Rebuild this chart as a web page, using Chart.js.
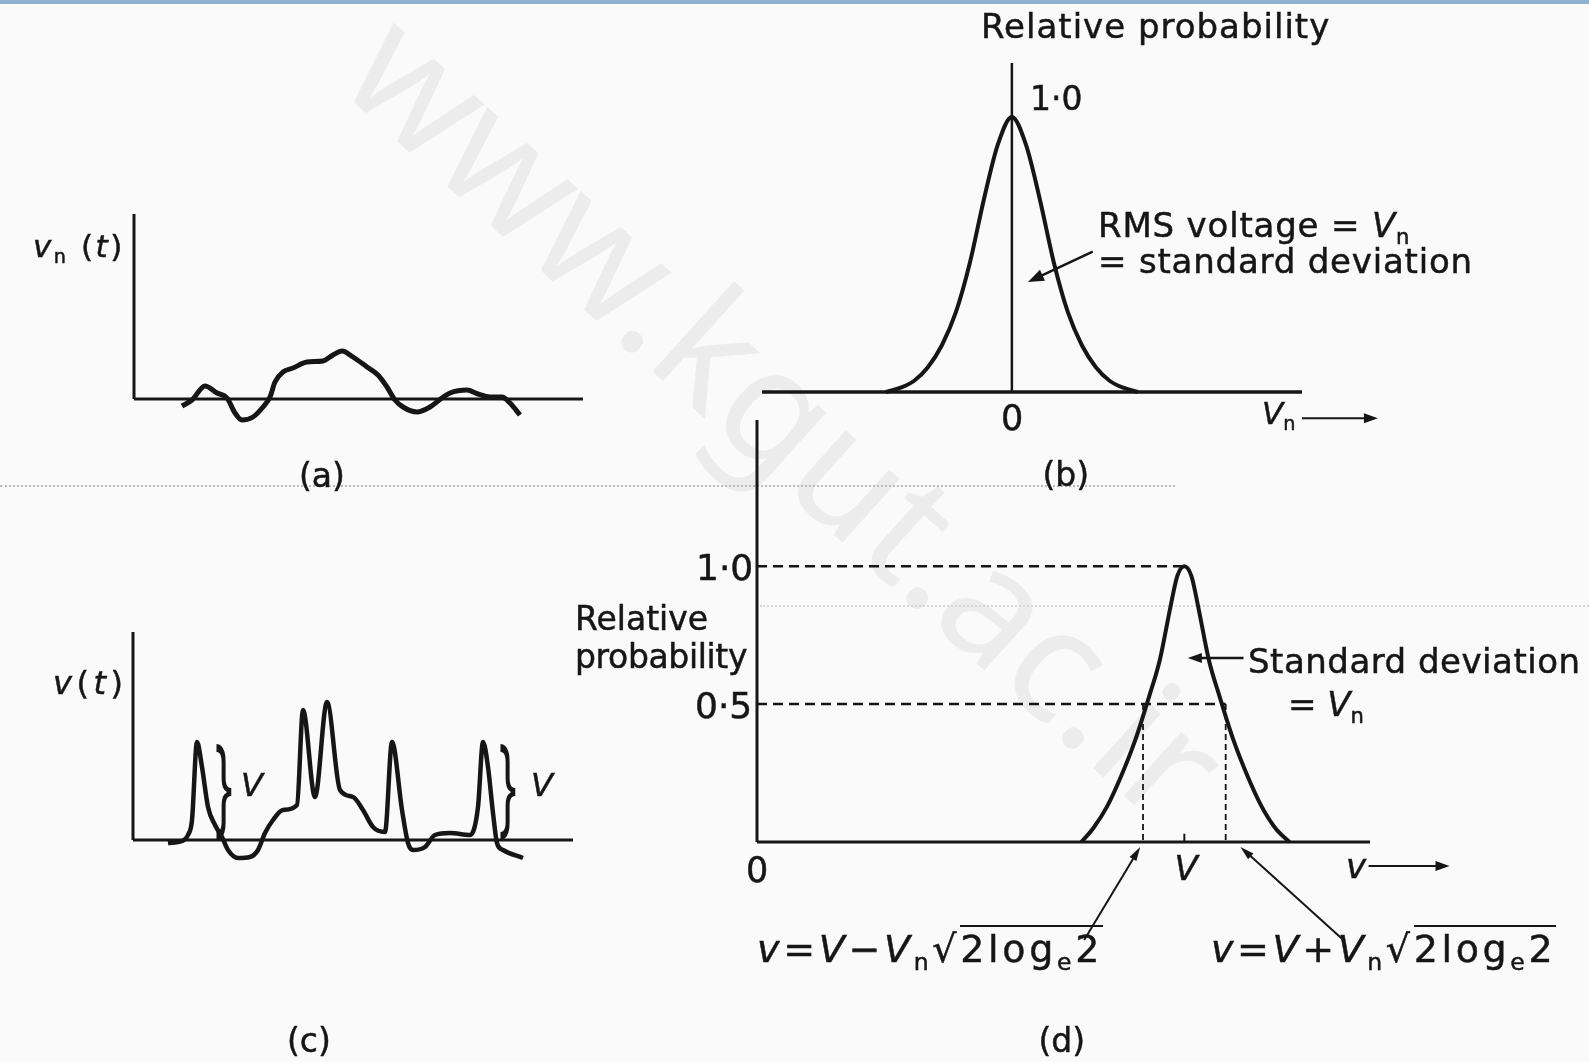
<!DOCTYPE html>
<html>
<head>
<meta charset="utf-8">
<script src="https://cdn.jsdelivr.net/npm/chart.js@4.4.1/dist/chart.umd.min.js"></script>
<style>
html, body { margin: 0; padding: 0; }
body {
    width: 1589px; height: 1062px; position: relative; overflow: hidden;
    background: #fafafa; font-family: "DejaVu Sans", sans-serif; color: #161616;
}
#topbar { position: absolute; left: 0; top: 0; width: 1589px; height: 4px; background: #8fb1d0; }
canvas { position: absolute; left: 0; top: 0; }
.t { position: absolute; white-space: nowrap; line-height: 1; -webkit-text-stroke: 0.5px #161616; }
.mk { display: inline-block; width: 0; height: 0; }
.sub { font-size: 0.62em; position: relative; top: 0.32em; font-style: normal; }
.ov { border-top: 2px solid #161616; }
.br { font-family: "Noto Sans", sans-serif; transform: scaleX(0.42); transform-origin: 0 0; -webkit-text-stroke: 0; }
.wm {
    position: absolute; left: 430px; top: -20px; font-size: 160px; color: #ececec;
    font-family: "Noto Sans", sans-serif;
    transform: rotate(42deg); transform-origin: 0 0; white-space: nowrap; line-height: 1;
}
.scan { position: absolute; height: 0; border-top: 2px dotted #b9b9b9; }
</style>
</head>
<body>
<div id="topbar"></div>
<div class="wm">www.kgut.ac.ir</div>
<div class="scan" style="left:0;top:485px;width:1175px"></div>
<div class="scan" style="left:760px;top:605px;width:829px;border-color:#d6d6d6"></div>
<canvas id="panelA" width="1589" height="1062"></canvas>
<canvas id="panelB" width="1589" height="1062"></canvas>
<canvas id="panelC" width="1589" height="1062"></canvas>
<canvas id="panelD" width="1589" height="1062"></canvas>

<script>
// (a) noise voltage vn(t) -- time / amplitude, arbitrary units
const noiseT = [4.8, 5.8, 7.1, 8.3, 9.3, 10.1, 10.8, 11.9, 12.9, 13.6, 14.1, 14.9, 15.9, 17.3, 18.9, 19.9, 20.8,
    21.9, 23.3, 24.4, 25.3, 26.1, 26.9, 28.3, 29.6, 30.8, 31.6, 33.3, 34.4, 35.6, 36.8, 37.6, 38.6];
const noiseV = [-0.28, -0.04, 0.52, 0.24, 0.04, -0.56, -0.84, -0.72, -0.32, 0.08, 0.68, 1.08, 1.24, 1.48, 1.52, 1.76, 1.92,
    1.68, 1.28, 0.96, 0.48, -0.04, -0.32, -0.52, -0.32, 0.04, 0.24, 0.36, 0.2, 0.08, 0.08, -0.16, -0.64];

// (c) signal pulses plus noise v(t)
const signalT = [3.5, 4.9, 5.5, 5.9, 6.4, 6.9, 7.5, 8.2, 8.9, 9.5, 10.5, 11.7, 12.5, 13.2, 14.0, 15.0, 16.4, 17.0, 18.2,
    19.4, 20.7, 22.0, 23.0, 24.0, 25.2, 25.9, 26.9, 27.5, 28.0, 29.2, 30.2, 31.7, 33.7, 34.5, 35.0, 35.5, 36.0, 36.4, 37.0, 39.0];
const signalV = [-0.12, -0.04, 0.2, 0.8, 3.92, 2.92, 1.32, 0.6, 0.12, -0.4, -0.72, -0.68, -0.4, 0.28, 0.8, 1.2, 1.4, 5.2, 1.72,
    5.52, 2.0, 1.72, 1.2, 0.52, 0.32, 3.92, 1.2, -0.12, -0.4, -0.28, 0.2, 0.28, 0.2, 1.32, 3.92, 2.92, 1.08, -0.12, -0.4, -0.72];

// (b) relative probability of the noise voltage (x in units of Vn)
const noiseProbX = [-3.6, -3.2, -2.8, -2.4, -2.0, -1.6, -1.2, -0.8, -0.4, 0, 0.4, 0.8, 1.2, 1.6, 2.0, 2.4, 2.8, 3.2, 3.6];
const noiseProbY = [0, 0.015, 0.04, 0.09, 0.17, 0.29, 0.47, 0.7, 0.9, 1.0, 0.9, 0.7, 0.47, 0.29, 0.17, 0.09, 0.04, 0.015, 0];

// (d) relative probability of signal + noise (x in units of Vn)
const sigProbX = [9.26, 9.6, 10.0, 10.4, 10.8, 11.2, 11.5, 11.8, 12.0, 12.2, 12.4, 12.6, 12.9, 13.2, 13.6, 14.0, 14.4, 14.8, 15.2];
const sigProbY = [0, 0.05, 0.13, 0.24, 0.37, 0.53, 0.66, 0.85, 0.965, 1.0, 0.965, 0.85, 0.66, 0.53, 0.37, 0.24, 0.13, 0.05, 0];
const pulseV = 12.2;      // V
const halfWidth = 1.18;   // Vn * sqrt(2 loge 2)
const probTicks = [1.0, 0.5];

const W = 1589, H = 1062;
const INK = "#161616";

// axes, dashed guides and arrows, all given in data units of the panel
const extras = {
    id: "extras",
    afterDatasetsDraw(chart, args, o) {
        const ctx = chart.ctx;
        const px = v => chart.scales.x.getPixelForValue(v);
        const py = v => chart.scales.y.getPixelForValue(v);
        ctx.save();
        ctx.strokeStyle = INK;
        ctx.fillStyle = INK;
        (o.lines || []).forEach(l => {
            ctx.beginPath();
            ctx.lineWidth = l.w || 3;
            ctx.setLineDash(l.dash || []);
            ctx.moveTo(px(l.from[0]), py(l.from[1]));
            ctx.lineTo(px(l.to[0]), py(l.to[1]));
            ctx.stroke();
        });
        ctx.setLineDash([]);
        (o.arrows || []).forEach(a => {
            const x1 = px(a.from[0]), y1 = py(a.from[1]);
            const x2 = px(a.to[0]), y2 = py(a.to[1]);
            const ang = Math.atan2(y2 - y1, x2 - x1);
            const L = a.head || 14, hw = a.headW || 5;
            ctx.lineWidth = a.w || 2;
            ctx.beginPath();
            ctx.moveTo(x1, y1);
            ctx.lineTo(x2 - Math.cos(ang) * L * 0.6, y2 - Math.sin(ang) * L * 0.6);
            ctx.stroke();
            ctx.beginPath();
            ctx.moveTo(x2, y2);
            ctx.lineTo(x2 - L * Math.cos(ang) + hw * Math.sin(ang), y2 - L * Math.sin(ang) - hw * Math.cos(ang));
            ctx.lineTo(x2 - L * Math.cos(ang) - hw * Math.sin(ang), y2 - L * Math.sin(ang) + hw * Math.cos(ang));
            ctx.closePath();
            ctx.fill();
        });
        ctx.restore();
    }
};

function curve(xs, ys, width) {
    return {
        data: xs.map((x, i) => ({ x: x, y: ys[i] })),
        borderColor: INK,
        borderWidth: width,
        pointRadius: 0,
        fill: false,
        clip: false,
        cubicInterpolationMode: "monotone"
    };
}

// box = [left, top, right, bottom] of the plot area on the page
function panel(id, box, xr, yr, datasets, extra) {
    return new Chart(document.getElementById(id), {
        type: "line",
        data: { datasets: datasets },
        options: {
            responsive: false,
            animation: false,
            devicePixelRatio: 1,
            layout: { padding: { left: box[0], top: box[1], right: W - box[2], bottom: H - box[3] } },
            scales: {
                x: { type: "linear", display: false, min: xr[0], max: xr[1] },
                y: { type: "linear", display: false, min: yr[0], max: yr[1] }
            },
            plugins: { legend: { display: false }, tooltip: { enabled: false }, extras: extra }
        },
        plugins: [extras]
    });
}

// (a)
panel("panelA", [134, 214, 583, 399], [0, 44.9], [0, 7.4], [curve(noiseT, noiseV, 5)], {
    lines: [
        { from: [0, 0], to: [44.9, 0], w: 3 },
        { from: [0, 0], to: [0, 7.4], w: 3 }
    ]
});

// (b)
panel("panelB", [762, 63, 1302, 392], [-7.14, 8.29], [0, 1.196], [curve(noiseProbX, noiseProbY, 4)], {
    lines: [
        { from: [-7.14, 0], to: [8.29, 0], w: 3.5 },
        { from: [0, 0], to: [0, 1.196], w: 2.5 }
    ],
    arrows: [
        { from: [2.31, 0.51], to: [0.46, 0.40], w: 2.5, head: 16, headW: 6 },
        { from: [8.29, -0.095], to: [10.46, -0.095], w: 2, head: 14, headW: 5 }
    ]
});

// (c)
panel("panelC", [133, 632, 573, 840], [0, 44], [0, 8.32], [curve(signalT, signalV, 4.5)], {
    lines: [
        { from: [0, 0], to: [44, 0], w: 3 },
        { from: [0, 0], to: [0, 8.32], w: 3 }
    ]
});

// (d)
panel("panelD", [757, 420, 1370, 842], [0, 17.5], [0, 1.53], [curve(sigProbX, sigProbY, 4)], {
    lines: [
        { from: [0, 0], to: [17.5, 0], w: 3 },
        { from: [0, 0], to: [0, 1.53], w: 3 },
        { from: [0, probTicks[0]], to: [pulseV, probTicks[0]], w: 2.5, dash: [10, 6] },
        { from: [0, probTicks[1]], to: [pulseV + halfWidth, probTicks[1]], w: 2.5, dash: [10, 6] },
        { from: [pulseV - halfWidth, probTicks[1]], to: [pulseV - halfWidth, 0], w: 1.8, dash: [6, 4] },
        { from: [pulseV + halfWidth, probTicks[1]], to: [pulseV + halfWidth, 0], w: 1.8, dash: [6, 4] },
        { from: [pulseV, 0], to: [pulseV, 0.03], w: 2 }
    ],
    arrows: [
        { from: [13.89, 0.667], to: [12.3, 0.667], w: 2.5, head: 14, headW: 5 },
        { from: [9.34, -0.355], to: [10.94, -0.018], w: 2, head: 14, headW: 4 },
        { from: [16.74, -0.355], to: [13.8, -0.018], w: 2, head: 14, headW: 4 },
        { from: [17.46, -0.087], to: [19.77, -0.087], w: 2, head: 14, headW: 5 }
    ]
});

// text, placed by its baseline
function label(html, x, base, size, opts) {
    opts = opts || {};
    const d = document.createElement("div");
    d.className = "t" + (opts.cls ? " " + opts.cls : "");
    d.style.fontSize = size + "px";
    d.innerHTML = html + '<span class="mk"></span>';
    document.body.appendChild(d);
    const mk = d.querySelector(".mk");
    if (opts.w) {
        const n = d.textContent.length;
        d.style.letterSpacing = ((opts.w - mk.offsetLeft) / n) + "px";
    }
    const w = mk.offsetLeft;
    let left = x;
    if (opts.align === "c") left = x - w / 2;
    if (opts.align === "r") left = x - w;
    d.style.left = left + "px";
    d.style.top = (base - mk.offsetTop) + "px";
    return d;
}

const sub = s => '<span class="sub">' + s + "</span>";

// (a)
label("<i>v</i>" + sub("n") + " (<i>t</i>)", 33, 257, 31, { w: 92 });
label("(a)", 322, 487, 33, { align: "c" });

// (b)
label("Relative probability", 981, 38, 34, { w: 349 });
label("1·0", 1030, 110, 33);
label("0", 1012, 430, 35, { align: "c" });
label("<i>V</i>" + sub("n"), 1262, 424, 31);
label("RMS voltage = <i>V</i>" + sub("n"), 1098, 237, 34, { w: 312 });
label("= standard deviation", 1098, 273, 34, { w: 375 });
label("(b)", 1066, 486, 33, { align: "c" });

// (c)
label("<i>v</i>(<i>t</i>)", 53, 694, 32, { w: 74 });
label("}", 215, 823, 110, { cls: "br" });
label("}", 499, 823, 110, { cls: "br" });
label("<i>V</i>", 252, 796, 32, { align: "c" });
label("<i>V</i>", 542, 796, 32, { align: "c" });
label("(c)", 309, 1052, 33, { align: "c" });

// (d)
label("1·0", 753, 580, 36, { align: "r" });
label("0·5", 752, 718, 36, { align: "r" });
label("Relative", 575, 630, 33);
label("probability", 575, 668, 33, { w: 172 });
label("0", 757, 882, 35, { align: "c" });
label("<i>V</i>", 1186, 880, 34, { align: "c" });
label("<i>v</i>", 1346, 878, 34);
label("Standard deviation", 1248, 673, 34, { w: 333 });
label("= <i>V</i>" + sub("n"), 1288, 716, 34);
const root = "<span>√</span>" + '<span class="ov">2log' + sub("e") + "2</span>";
label("<i>v</i>=<i>V</i>−<i>V</i>" + sub("n") + root, 757, 962, 38, { w: 346 });
label("<i>v</i>=<i>V</i>+<i>V</i>" + sub("n") + root, 1211, 962, 38, { w: 345 });
label("(d)", 1062, 1052, 33, { align: "c" });
</script>
</body>
</html>
